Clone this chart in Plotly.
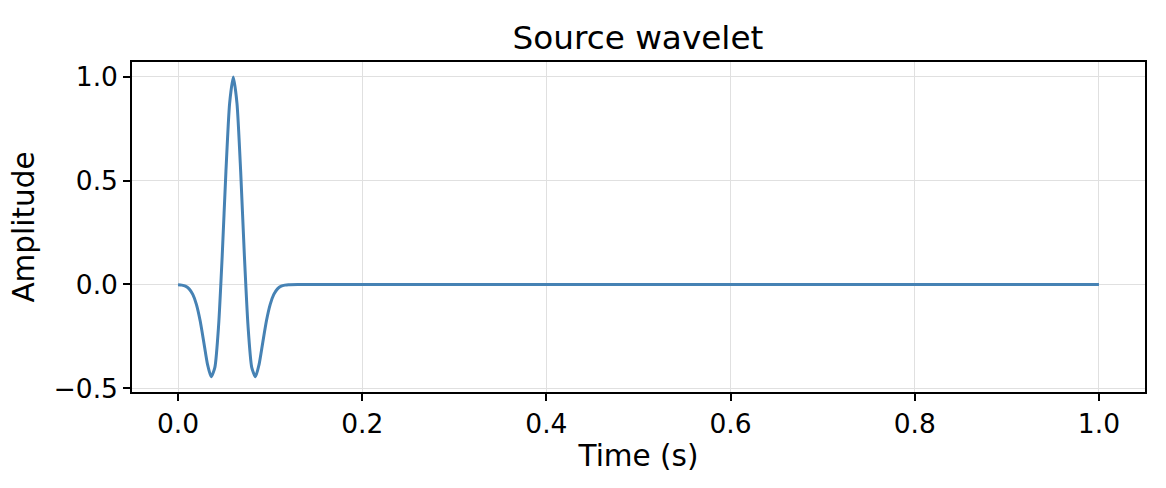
import plotly.graph_objects as go

# Values
time_s = [0.000, 0.004, 0.008, 0.012, 0.016, 0.020, 0.024, 0.028, 0.032, 0.036,
          0.040, 0.044, 0.048, 0.052, 0.056, 0.060, 0.064, 0.068, 0.072, 0.076,
          0.080, 0.084, 0.088, 0.092, 0.096, 0.100, 0.104, 0.108, 0.112, 0.116,
          0.120, 0.130, 1.000]
amplitude = [-0.001, -0.003, -0.008, -0.021, -0.048, -0.097, -0.175, -0.279, -0.385, -0.445,
             -0.399, -0.200, 0.142, 0.545, 0.873, 1.000, 0.873, 0.545, 0.142, -0.200,
             -0.399, -0.445, -0.385, -0.279, -0.175, -0.097, -0.048, -0.021, -0.008, -0.003,
             -0.001, 0.000, 0.000]

x_ticks = [0.0, 0.2, 0.4, 0.6, 0.8, 1.0]
x_tick_labels = ["0.0", "0.2", "0.4", "0.6", "0.8", "1.0"]
y_ticks = [-0.5, 0.0, 0.5, 1.0]
y_tick_labels = ["\u22120.5", "0.0", "0.5", "1.0"]

FONT = "DejaVu Sans"

fig = go.Figure()
fig.add_trace(go.Scatter(
    x=time_s, y=amplitude, mode="lines",
    line=dict(color="#4682B4", width=3, shape="spline", smoothing=0.6),
    showlegend=False, hoverinfo="skip",
))

axis_common = dict(
    showline=True, linecolor="black", linewidth=1.5, mirror=True,
    ticks="outside", ticklen=7, tickwidth=1.5, tickcolor="black",
    showgrid=True, gridcolor="#e0e0e0", gridwidth=1,
    zeroline=False, tickfont=dict(family=FONT, size=26.5, color="black"),
)

fig.update_layout(
    width=1166, height=488,
    margin=dict(l=132, r=21, t=62, b=96),
    paper_bgcolor="white", plot_bgcolor="white",
    title=dict(text="Source wavelet", x=0.5471, xanchor="center", y=0.924, yanchor="middle",
               font=dict(family=FONT, size=32.7, color="black")),
    xaxis=dict(range=[-0.05, 1.05], tickvals=x_ticks, ticktext=x_tick_labels,
               title=dict(text="Time (s)", font=dict(family=FONT, size=29.5, color="black"), standoff=8),
               **axis_common),
    yaxis=dict(range=[-0.518, 1.072], tickvals=y_ticks, ticktext=y_tick_labels,
               title=dict(text="Amplitude", font=dict(family=FONT, size=29.5, color="black"), standoff=10),
               **axis_common),
)

fig.write_html("out.html")
